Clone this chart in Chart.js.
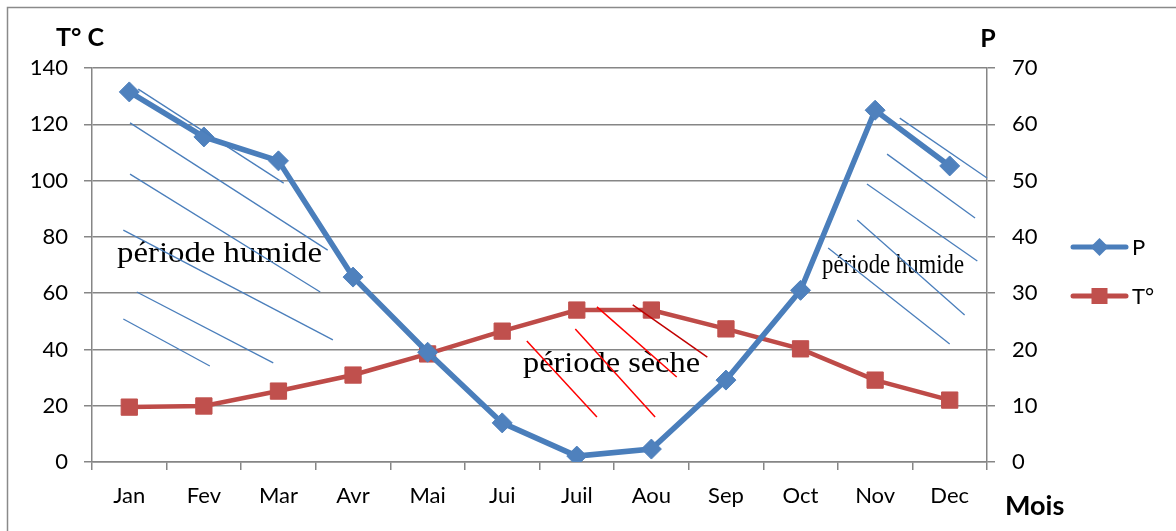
<!DOCTYPE html>
<html><head><meta charset="utf-8">
<script src="https://cdn.jsdelivr.net/npm/chart.js@4/dist/chart.umd.min.js"></script>
<style>html,body{margin:0;padding:0;background:#fff}#wrap{width:1176px;height:531px;position:relative}</style>
</head><body><div id="wrap"><canvas id="c" width="1176" height="531"></canvas></div>
<script>
// ---- data ----
const months = ["Jan","Fev","Mar","Avr","Mai","Jui","Juil","Aou","Sep","Oct","Nov","Dec"];
const precipitation = [131.5,115.5,107,65.7,39,13.9,2.1,4.6,29.1,61,125,105.2];
const temperature = [9.75,9.95,12.6,15.45,19.2,23.25,27,27,23.65,20.1,14.55,11];
const leftAxis = {min:0, max:140, step:20};
const rightAxis = {min:0, max:70, step:10};
const seriesLabels = ["P","T°"];
const axisTitles = {left:"T° C", right:"P", x:"Mois"};
const annotations = [
  {text:"période humide", from:-0.165, to:2.584, y:71.1, size:29},
  {text:"période sèche", from:5.279, to:7.652, y:32.0, size:29},
  {text:"période humide", from:9.288, to:11.192, y:67.2, size:28}
];
// hatching segments in data space [x1, y1, x2, y2] (category index, left-axis value)
const hatchBlue = [
  [0.12,132.5,2.07,99.1],[0.01,120.5,2.66,75.3],[0.01,102.3,2.56,60.4],
  [-0.08,82.4,2.73,43.4],[0.10,60.4,1.93,35.2],[-0.08,50.8,1.08,34.1],
  [10.33,122.2,11.5,100.9],[10.16,109.4,11.34,86.7],[9.89,98.8,11.37,71.4],
  [9.76,86.0,11.2,52.2],[9.37,76.0,11.0,41.9]
];
const hatchRed = [[5.33,43.0,6.27,16.0],[5.98,47.3,7.05,16.0],[6.27,55.1,7.34,30.2]];
const hatchDarkRed = [[6.75,55.8,7.75,37.3]];

const BLUE = '#4A7EBB', BLUE_FILL = '#4F81BD', RED = '#BE4B48', RED_FILL = '#C0504D';
const GRID = '#868686';
const FONT = 'Lato';

const decor = {
  id:'decor',
  afterDatasetsDraw(chart){
    const ctx = chart.ctx, xs = chart.scales.x, ys = chart.scales.y;
    const px = v => xs.getPixelForValue(0) + v * (xs.getPixelForValue(1) - xs.getPixelForValue(0));
    const py = v => ys.getPixelForValue(v);
    ctx.save();
    ctx.fillStyle = '#000';
    ctx.textBaseline = 'alphabetic';
    annotations.forEach(a => {
      ctx.font = a.size + 'px "Liberation Serif"';
      const w = ctx.measureText(a.text).width;
      const x1 = px(a.from), x2 = px(a.to);
      ctx.save();
      ctx.translate(x1, py(a.y));
      ctx.scale((x2 - x1) / w, 1);
      ctx.fillText(a.text, 0, 0);
      ctx.restore();
    });
    const drawSegs = (segs, color, lw) => {
      ctx.strokeStyle = color; ctx.lineWidth = lw;
      segs.forEach(s => { ctx.beginPath(); ctx.moveTo(px(s[0]), py(s[1])); ctx.lineTo(px(s[2]), py(s[3])); ctx.stroke(); });
    };
    drawSegs(hatchBlue, BLUE, 1.3);
    drawSegs(hatchRed, '#FF0000', 1.5);
    drawSegs(hatchDarkRed, '#C00000', 1.5);
    ctx.restore();
  },
  afterDraw(chart){
    const ctx = chart.ctx, ca = chart.chartArea;
    ctx.save();
    // frame
    ctx.strokeStyle = '#8a8a8a'; ctx.lineWidth = 1.5;
    ctx.beginPath(); ctx.moveTo(7.5, 531); ctx.lineTo(7.5, 7.5); ctx.lineTo(1176, 7.5); ctx.stroke();
    // titles
    ctx.fillStyle = '#000';
    ctx.font = 'bold 25px ' + FONT;
    ctx.textBaseline = 'middle';
    ctx.textAlign = 'center';
    ctx.fillText(axisTitles.left, 80, 38);
    ctx.fillText(axisTitles.right, ca.right + 1, 39);
    ctx.font = 'bold 27px ' + FONT;
    ctx.textAlign = 'left';
    ctx.fillText(axisTitles.x, 1005, 506);
    // legend
    const items = chart.data.datasets.map(d => ({label:d.label, color:d.borderColor, fill:d.pointBackgroundColor, style:d.pointStyle}));
    const ys = [247, 296];
    items.forEach((it, i) => {
      const y = ys[i];
      ctx.strokeStyle = it.color; ctx.lineWidth = 5; ctx.lineCap = 'round';
      ctx.beginPath(); ctx.moveTo(1073, y); ctx.lineTo(1126, y); ctx.stroke();
      ctx.fillStyle = it.fill;
      const cx = 1099.5;
      if (it.style === 'rectRot') {
        ctx.beginPath(); ctx.moveTo(cx, y - 9); ctx.lineTo(cx + 9, y); ctx.lineTo(cx, y + 9); ctx.lineTo(cx - 9, y); ctx.closePath(); ctx.fill();
      } else {
        ctx.fillRect(cx - 8, y - 8, 16, 16);
      }
      ctx.fillStyle = '#000';
      ctx.font = '22px ' + FONT;
      ctx.textAlign = 'left'; ctx.textBaseline = 'middle';
      ctx.fillText(it.label, 1132, y + 1);
    });
    ctx.restore();
  }
};

new Chart(document.getElementById('c'), {
  type:'line',
  data:{
    labels: months,
    datasets:[
      {label:seriesLabels[0], data:precipitation, yAxisID:'y', borderColor:BLUE, borderWidth:5.5,
       pointStyle:'rectRot', pointRadius:10, pointBackgroundColor:BLUE_FILL, pointBorderColor:BLUE_FILL, pointBorderWidth:1, tension:0},
      {label:seriesLabels[1], data:temperature, yAxisID:'y1', borderColor:RED, borderWidth:4.5,
       pointStyle:'rect', pointRadius:11.5, pointBackgroundColor:RED_FILL, pointBorderColor:RED_FILL, pointBorderWidth:1, tension:0}
    ]
  },
  options:{
    responsive:false, animation:false, devicePixelRatio:1,
    layout:{padding:{top:68, left:0, right:0, bottom:0}},
    plugins:{legend:{display:false}, tooltip:{enabled:false}},
    scales:{
      x:{type:'category', offset:true,
         grid:{offset:true, drawOnChartArea:false, drawTicks:true, tickLength:8, color:GRID, lineWidth:1.5},
         border:{color:GRID, width:1.5},
         ticks:{color:'#000', font:{family:FONT, size:22}, padding:13, maxRotation:0},
         afterFit:s => { s.height = 69; }},
      y:{position:'left', min:leftAxis.min, max:leftAxis.max,
         ticks:{stepSize:leftAxis.step, color:'#000', font:{family:FONT, size:22}, padding:16},
         grid:{color:GRID, lineWidth:1.5, tickLength:8},
         border:{color:GRID, width:1.5},
         afterFit:s => { s.width = 92; }},
      y1:{position:'right', min:rightAxis.min, max:rightAxis.max,
         ticks:{stepSize:rightAxis.step, color:'#000', font:{family:FONT, size:22}, padding:17},
         grid:{drawOnChartArea:false, color:GRID, lineWidth:1.5, tickLength:8},
         border:{color:GRID, width:1.5},
         afterFit:s => { s.width = 189; }}
    }
  },
  plugins:[decor]
});
</script></body></html>
